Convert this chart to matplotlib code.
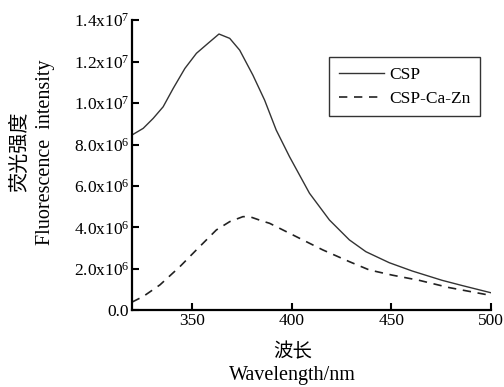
import matplotlib
matplotlib.use('Agg')
import matplotlib.pyplot as plt

plt.rcParams['font.family'] = ['Liberation Serif', 'Noto Sans CJK SC']
plt.rcParams['mathtext.default'] = 'regular'

# 波长 (nm) 与荧光强度，读自原图
wl_csp = [320, 325.6, 330.6, 335.6, 340.6, 346.5, 352.3, 358.1, 363.6, 369, 374,
          380.6, 386.5, 392.3, 399, 409, 419, 429, 437.3, 449, 460.5, 475.5,
          485.5, 500]
csp = [8.46e6, 8.78e6, 9.26e6, 9.82e6, 10.7e6, 11.67e6, 12.4e6, 12.88e6, 13.33e6,
       13.12e6, 12.55e6, 11.35e6, 10.14e6, 8.7e6, 7.41e6, 5.65e6, 4.36e6, 3.4e6,
       2.83e6, 2.3e6, 1.9e6, 1.45e6, 1.2e6, 0.85e6]

wl_cazn = [320, 325.6, 334, 344, 352.3, 362.3, 369, 375.6, 379, 385.6, 389, 402.3,
           415.6, 429, 439, 450.5, 464, 479, 500]
cazn = [0.4e6, 0.67e6, 1.23e6, 2.11e6, 2.92e6, 3.88e6, 4.28e6, 4.52e6, 4.52e6,
        4.3e6, 4.2e6, 3.56e6, 2.92e6, 2.35e6, 1.95e6, 1.7e6, 1.45e6, 1.1e6, 0.72e6]

yticks = [0, 2e6, 4e6, 6e6, 8e6, 1e7, 1.2e7, 1.4e7]
ylabels = ['0.0', '2.0x10$^{6}$', '4.0x10$^{6}$', '6.0x10$^{6}$', '8.0x10$^{6}$',
           '1.0x10$^{7}$', '1.2x10$^{7}$', '1.4x10$^{7}$']
xticks = [350, 400, 450, 500]

fig = plt.figure(figsize=(5.04, 3.87), dpi=100)
ax = fig.add_axes([0.262, 0.198, 0.712, 0.750])

ax.plot(wl_csp, csp, color='#333333', lw=1.0, label='CSP')
ax.plot(wl_cazn, cazn, color='#222222', lw=1.2, dashes=(5, 4), label='CSP-Ca-Zn')

ax.set_xlim(320, 500)
ax.set_ylim(0, 1.4e7)
ax.set_xticks(xticks)
ax.set_yticks(yticks)
ax.set_yticklabels(ylabels)
ax.tick_params(direction='in', length=5, width=1.5, labelsize=12.5, pad=2)
for s in ['top', 'right']:
    ax.spines[s].set_visible(False)
for s in ['left', 'bottom']:
    ax.spines[s].set_linewidth(1.6)

leg = ax.legend(loc='upper left', bbox_to_anchor=(0.549, 0.873), fontsize=12.5,
                frameon=True, fancybox=False, edgecolor='black', handlelength=2.6,
                handletextpad=0.3, borderpad=0.55, labelspacing=0.45,
                borderaxespad=0)
leg.get_frame().set_linewidth(1.0)

fig.text(0.04, 0.607, '荧光强度', rotation=90, ha='center', va='center', fontsize=14.5)
fig.text(0.09, 0.607, 'Fluorescence  intensity', rotation=90, ha='center',
         va='center', fontsize=14.5)
fig.text(0.58, 0.09, '波长', ha='center', va='center', fontsize=14)
fig.text(0.58, 0.03, 'Wavelength/nm', ha='center', va='center', fontsize=14.5)

fig.savefig('out.png', dpi=100)
